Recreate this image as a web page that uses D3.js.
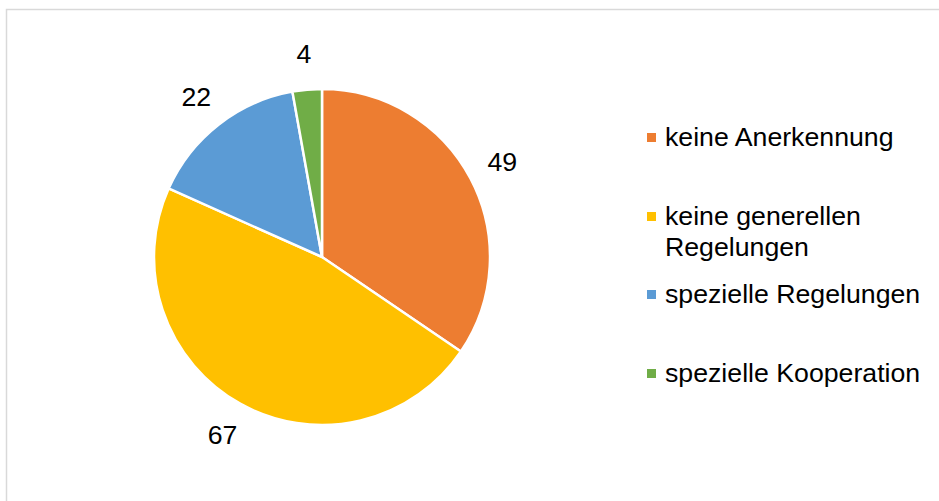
<!DOCTYPE html>
<html>
<head>
<meta charset="utf-8">
<script src="https://cdn.jsdelivr.net/npm/d3@7"></script>
<style>
  body { margin: 0; background: #fff; }
  text { font-family: "Liberation Sans", Arial, sans-serif; fill: #000; }
</style>
</head>
<body>
<svg id="chart" width="939" height="501"></svg>
<script>
// data
var categories = ['keine Anerkennung', 'keine generellen Regelungen', 'spezielle Regelungen', 'spezielle Kooperation'];
var values = [49, 67, 22, 4];
var colors = ['#ED7D31', '#FFC000', '#5B9BD5', '#70AD47'];
var legendLines = [['keine Anerkennung'], ['keine generellen', 'Regelungen'], ['spezielle Regelungen'], ['spezielle Kooperation']];

var width = 939, height = 501;
var cx = 322, cy = 257, radius = 168;

var svg = d3.select('#chart');

// chart frame (only top and left edge visible)
svg.append('rect')
  .attr('x', 6.5).attr('y', 9.5)
  .attr('width', 960).attr('height', 520)
  .attr('fill', 'none')
  .attr('stroke', '#d9d9d9')
  .attr('stroke-width', 1.5);

var data = categories.map((c, i) => ({ name: c, value: values[i], color: colors[i], lines: legendLines[i] }));

var pie = d3.pie().value(d => d.value).sort(null);
var arcs = pie(data);

var arc = d3.arc().innerRadius(0).outerRadius(radius);
var labelArc = d3.arc().innerRadius(204).outerRadius(204);

var g = svg.append('g').attr('transform', 'translate(' + cx + ',' + cy + ')');

g.selectAll('path.slice')
  .data(arcs)
  .enter().append('path')
  .attr('class', 'slice')
  .attr('d', arc)
  .attr('fill', d => d.data.color)
  .attr('stroke', '#fff')
  .attr('stroke-width', 2.5);

g.selectAll('text.lbl')
  .data(arcs)
  .enter().append('text')
  .attr('class', 'lbl')
  .attr('x', d => labelArc.centroid(d)[0])
  .attr('y', d => labelArc.centroid(d)[1])
  .attr('text-anchor', 'middle')
  .attr('dy', '0.35em')
  .style('font-size', '26.7px')
  .text(d => d.data.value);

// legend
var legendY = [146, 225, 303, 382];
var legend = svg.append('g');
data.forEach(function(d, i) {
  var row = legend.append('g');
  row.append('rect')
    .attr('x', 647).attr('y', legendY[i] - 13)
    .attr('width', 9).attr('height', 9)
    .attr('fill', d.color);
  var t = row.append('text')
    .attr('x', 665).attr('y', legendY[i])
    .style('font-size', '26.7px');
  d.lines.forEach(function(line, j) {
    t.append('tspan')
      .attr('x', 665)
      .attr('dy', j == 0 ? 0 : 31)
      .text(line);
  });
});
</script>
</body>
</html>
